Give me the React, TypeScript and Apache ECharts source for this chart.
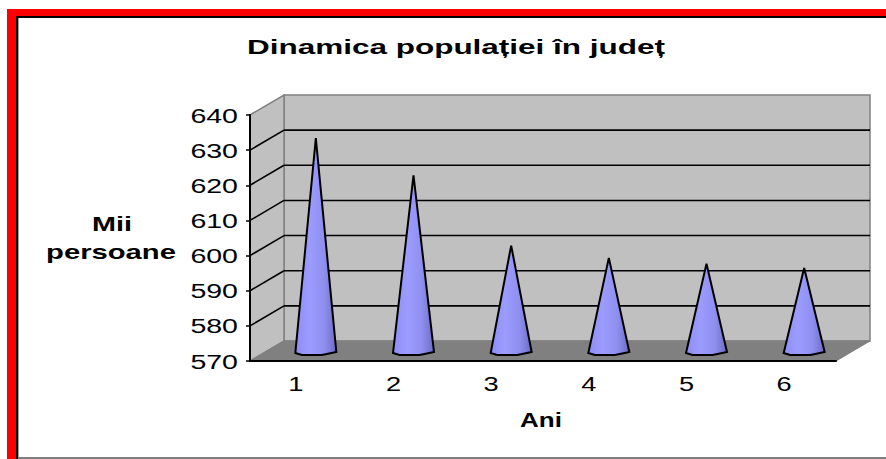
import React, { useEffect, useRef } from "react";
import * as echarts from "echarts";

const years = ["1", "2", "3", "4", "5", "6"];
const population = [630.6, 620, 600, 596.5, 594.8, 593.6];
const yTicks = [570, 580, 590, 600, 610, 620, 630, 640];
const gridValues = [580, 590, 600, 610, 620, 630];
const titleText = "Dinamica populației în județ";
const yNameLines = ["Mii", "persoane"];
const xName = "Ani";

const DX = 34;
const DY = -20;
const FONT_FAMILY = '"Liberation Sans", Arial, sans-serif';

export default function App() {
  const ref = useRef<HTMLDivElement>(null);
  useEffect(() => {
    document.body.style.margin = "0";
    const chart = echarts.init(ref.current!, null, { renderer: "svg" });
    const boldText = (text: string, x: number, y: number, size: number, scaleX: number) => ({
      type: "text",
      z: 10,
      x,
      y,
      scaleX,
      style: {
        text,
        fill: "#000",
        fontFamily: FONT_FAMILY,
        fontSize: size,
        fontWeight: "bold",
        textAlign: "center",
        textVerticalAlign: "middle",
      },
    });
    chart.setOption({
      animation: false,
      backgroundColor: "#fff",
      grid: { left: 250, top: 115, width: 586, height: 246 },
      xAxis: {
        type: "category",
        data: years,
        axisLine: { lineStyle: { color: "#000", width: 2 } },
        axisTick: { alignWithLabel: false, length: 4, lineStyle: { color: "#000", width: 1.5 } },
        axisLabel: { show: false },
        z: 5,
      },
      yAxis: {
        type: "value",
        min: 570,
        max: 640,
        interval: 10,
        axisLine: { show: true, lineStyle: { color: "#000", width: 2 } },
        axisTick: { show: true, length: 4, lineStyle: { color: "#000", width: 1.5 } },
        axisLabel: { show: false },
        splitLine: { show: false },
        z: 5,
      },
      series: [
        {
          type: "custom",
          z: 1,
          silent: true,
          clip: false,
          data: [[0, 570]],
          renderItem: (params: any) => {
            const { x, y, width, height } = params.coordSys;
            const b = y + height;
            const grey = "#808080";
            return {
              type: "group",
              children: [
                { type: "polygon", shape: { points: [[x + DX, y + DY], [x + width + DX, y + DY], [x + width + DX, b + DY], [x + DX, b + DY]] }, style: { fill: "#c0c0c0", stroke: grey, lineWidth: 1.5 } },
                { type: "polygon", shape: { points: [[x, y], [x + DX, y + DY], [x + DX, b + DY], [x, b]] }, style: { fill: "#c0c0c0", stroke: grey, lineWidth: 1.5 } },
                { type: "polygon", shape: { points: [[x, b], [x + DX, b + DY], [x + width + DX, b + DY], [x + width, b]] }, style: { fill: "#808080", stroke: grey, lineWidth: 1 } },
              ],
            };
          },
        },
        {
          type: "custom",
          z: 2,
          silent: true,
          clip: false,
          data: gridValues.map((v) => [0, v]),
          renderItem: (params: any, api: any) => {
            const { x, width } = params.coordSys;
            const py = api.coord([0, api.value(1)])[1];
            const style = { stroke: "#000", lineWidth: 1.6, fill: "none" };
            return {
              type: "group",
              children: [
                { type: "line", shape: { x1: x, y1: py, x2: x + DX, y2: py + DY }, style },
                { type: "line", shape: { x1: x + DX, y1: py + DY, x2: x + width + DX, y2: py + DY }, style },
              ],
            };
          },
        },
        {
          type: "custom",
          z: 3,
          silent: true,
          clip: false,
          data: population.map((v, i) => [i, v]),
          renderItem: (_params: any, api: any) => {
            const i = api.value(0);
            const tip = api.coord([i, api.value(1)]);
            const base = api.coord([i, 570]);
            const cx = tip[0] + DX / 2;
            const ty = tip[1] + DY / 2;
            const by = base[1] + DY / 2;
            const r = 20.5;
            const d = `M${cx},${ty}L${cx + r},${by + 1}L${cx + 11},${by + 3}L${cx + 6},${by + 4}L${cx - 14},${by + 4}L${cx - r},${by + 2}Z`;
            return {
              type: "path",
              shape: { pathData: d },
              style: {
                stroke: "#000",
                lineWidth: 2,
                lineJoin: "miter",
                fill: new echarts.graphic.LinearGradient(0, 0, 1, 0, [
                  { offset: 0, color: "#8c8cf5" },
                  { offset: 0.35, color: "#9c9cff" },
                  { offset: 0.7, color: "#8f8ff0" },
                  { offset: 1, color: "#6c6cc4" },
                ]),
              },
            };
          },
        },
        {
          type: "custom",
          z: 6,
          silent: true,
          clip: false,
          data: yTicks.map((v) => [0, v]),
          renderItem: (params: any, api: any) => {
            const v = api.value(1);
            return {
              type: "text",
              x: params.coordSys.x - 12,
              y: api.coord([0, v])[1],
              scaleX: 1.36,
              style: {
                text: String(v),
                fill: "#000",
                fontFamily: FONT_FAMILY,
                fontSize: 21,
                textAlign: "right",
                textVerticalAlign: "middle",
              },
            };
          },
        },
        {
          type: "custom",
          z: 6,
          silent: true,
          clip: false,
          data: years.map((_, i) => [i, 570]),
          renderItem: (_params: any, api: any) => {
            const i = api.value(0);
            const p = api.coord([i, 570]);
            return {
              type: "text",
              x: p[0] - 3,
              y: p[1] + 23,
              scaleX: 1.36,
              style: {
                text: years[i],
                fill: "#000",
                fontFamily: FONT_FAMILY,
                fontSize: 20,
                textAlign: "center",
                textVerticalAlign: "middle",
              },
            };
          },
        },
      ],
      graphic: [
        { type: "rect", z: 10, shape: { x: 7, y: 9, width: 879, height: 7 }, style: { fill: "#ff0000" } },
        { type: "rect", z: 10, shape: { x: 7, y: 9, width: 9, height: 450 }, style: { fill: "#ff0000" } },
        { type: "rect", z: 10, shape: { x: 16, y: 16, width: 870, height: 2 }, style: { fill: "#000" } },
        { type: "rect", z: 10, shape: { x: 16, y: 16, width: 2, height: 443 }, style: { fill: "#000" } },
        { type: "rect", z: 10, shape: { x: 18, y: 18, width: 1, height: 441 }, style: { fill: "#a0a0a0" } },
        { type: "rect", z: 10, shape: { x: 18, y: 457, width: 868, height: 2 }, style: { fill: "#808080" } },
        boldText(titleText, 456, 47, 21, 1.5),
        boldText(yNameLines[0], 112, 224, 20, 1.44),
        boldText(yNameLines[1], 111, 252, 20, 1.46),
        boldText(xName, 541, 420, 20, 1.3),
      ],
    });
    return () => chart.dispose();
  }, []);
  return <div ref={ref} style={{ width: 886, height: 459 }} />;
}
